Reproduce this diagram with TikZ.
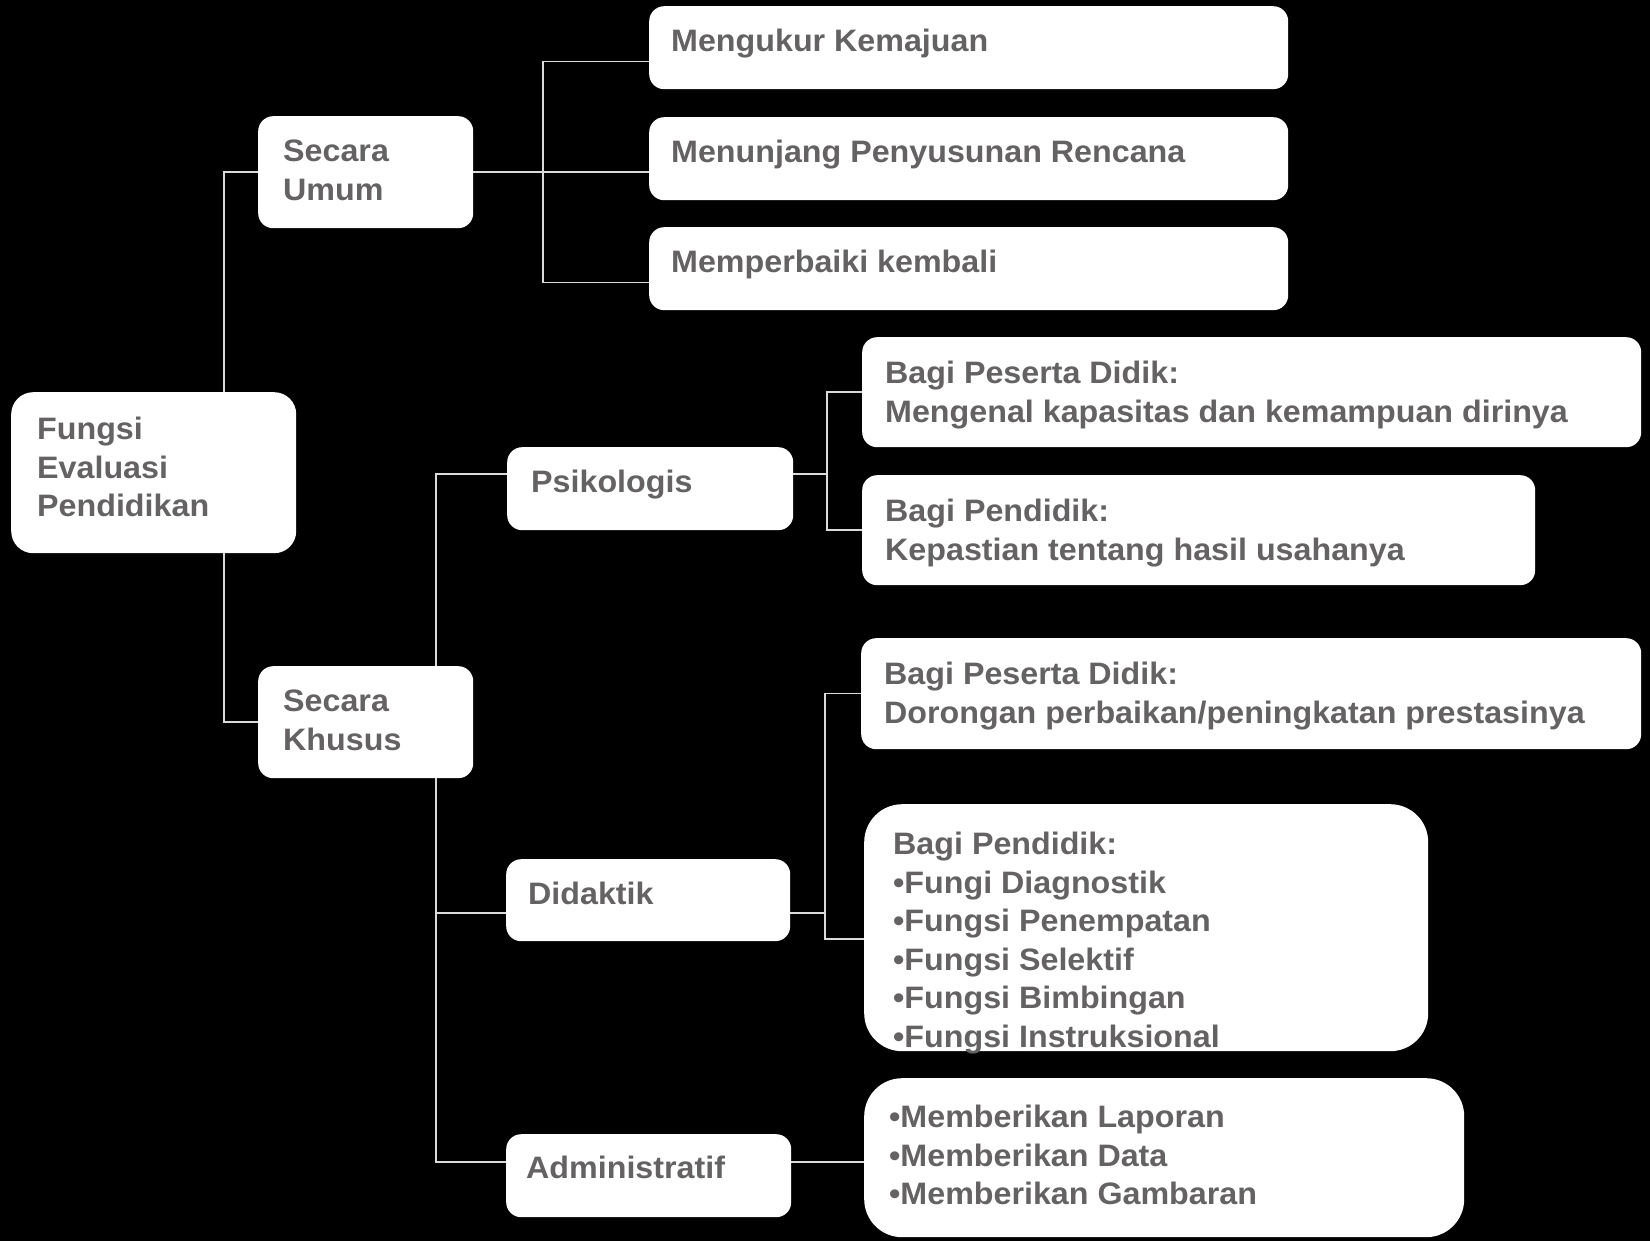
\documentclass[tikz,border=0pt]{standalone}
\usepackage{fontspec}
\setmainfont[FakeStretch=1.04]{Liberation Sans}
\usepackage{xcolor}
\usetikzlibrary{positioning, calc}
\definecolor{evgray}{HTML}{646263}
\definecolor{evline}{HTML}{DADADA}

\begin{document}
\begin{tikzpicture}[x=1pt, y=-1pt,
  box/.style={rectangle, fill=white, rounded corners=15pt, anchor=north west,
    inner sep=0pt},
  txt/.style={anchor=north west, inner sep=0pt, align=left, text=evgray,
    font=\fontsize{31}{38.5}\selectfont\bfseries, execute at begin node=\strut},
  link/.style={evline, line width=1.5pt},
]
  \fill[black] (0,0) rectangle (1650,1241);
  \useasboundingbox (0,0) rectangle (1650,1241);

  % boxes
  \node[box, rounded corners=22pt, minimum width=285pt, minimum height=161pt] (root) at (11,392) {};
  \node[box, minimum width=215pt, minimum height=112pt] (umum) at (258,116) {};
  \node[box, minimum width=215pt, minimum height=112pt] (khusus) at (258,666) {};
  \node[box, minimum width=639pt, minimum height=83pt] (m1) at (649,6) {};
  \node[box, minimum width=639pt, minimum height=83pt] (m2) at (649,117) {};
  \node[box, minimum width=639pt, minimum height=83pt] (m3) at (649,227) {};
  \node[box, minimum width=286pt, minimum height=83pt] (psik) at (507,447) {};
  \node[box, minimum width=779pt, minimum height=110pt] (p1) at (862,337) {};
  \node[box, minimum width=673pt, minimum height=110pt] (p2) at (862,475) {};
  \node[box, minimum width=284pt, minimum height=82pt] (didak) at (506,859) {};
  \node[box, minimum width=780pt, minimum height=111pt] (d1) at (861,638) {};
  \node[box, rounded corners=38pt, minimum width=564pt, minimum height=247pt] (d2) at (864,804) {};
  \node[box, minimum width=285pt, minimum height=83pt] (admin) at (506,1134) {};
  \node[box, rounded corners=38pt, minimum width=600pt, minimum height=159pt] (a1) at (864,1078) {};

  % texts
  \node[txt] (root-t) at ([shift={(26,25)}]root.north west) {Fungsi\\Evaluasi\\Pendidikan};
  \node[txt] (umum-t) at ([shift={(25,24)}]umum.north west) {Secara\\Umum};
  \node[txt] (khusus-t) at ([shift={(25,24)}]khusus.north west) {Secara\\Khusus};
  \node[txt] (m1-t) at ([shift={(22,18)}]m1.north west) {Mengukur Kemajuan};
  \node[txt] (m2-t) at ([shift={(22,18)}]m2.north west) {Menunjang Penyusunan Rencana};
  \node[txt] (m3-t) at ([shift={(22,18)}]m3.north west) {Memperbaiki kembali};
  \node[txt] (psik-t) at ([shift={(24,18)}]psik.north west) {Psikologis};
  \node[txt] (p1-t) at ([shift={(23,24)}]p1.north west) {Bagi Peserta Didik:\\Mengenal kapasitas dan kemampuan dirinya};
  \node[txt] (p2-t) at ([shift={(23,24)}]p2.north west) {Bagi Pendidik:\\Kepastian tentang hasil usahanya};
  \node[txt] (d1-t) at ([shift={(23,24)}]d1.north west) {Bagi Peserta Didik:\\Dorongan perbaikan/peningkatan prestasinya};
  \node[txt] (didak-t) at ([shift={(22,18)}]didak.north west) {Didaktik};
  \node[txt] (d2-t) at ([shift={(29,28)}]d2.north west) {Bagi Pendidik:\\•Fungi Diagnostik\\•Fungsi Penempatan\\•Fungsi Selektif\\•Fungsi Bimbingan\\•Fungsi Instruksional};
  \node[txt] (admin-t) at ([shift={(20,17)}]admin.north west) {Administratif};
  \node[txt] (a1-t) at ([shift={(25,27)}]a1.north west) {•Memberikan Laporan\\•Memberikan Data\\•Memberikan Gambaran};

  % trunks
  \coordinate (trunkA) at (224,0);
  \coordinate (trunkB) at (543,0);
  \coordinate (trunkC) at (436,0);
  \coordinate (trunkD) at (827,0);
  \coordinate (trunkE) at (825,0);

  % entry points
  \coordinate (m1in) at ([yshift=-14pt]m1.west);
  \coordinate (m3in) at ([yshift=-14pt]m3.west);
  \coordinate (psin) at ([yshift=14.5pt]psik.west);
  \coordinate (diin) at ([yshift=-13pt]didak.west);
  \coordinate (adin) at ([yshift=13.5pt]admin.west);
  \coordinate (d2in) at ([yshift=-11.5pt]d2.west);

  \draw[link] (root.north -| trunkA) |- (umum.west);
  \draw[link] (root.south -| trunkA) |- (khusus.west);
  \draw[link] (umum.east) -- (umum.east -| m2.west);
  \draw[link] (m1in) -| (trunkB |- m3in) -- (m3in);
  \draw[link] (psin) -| (trunkC |- khusus.north);
  \draw[link] (adin) -| (trunkC |- khusus.south);
  \draw[link] (diin) -- (diin -| trunkC);
  \draw[link] (psin -| psik.east) -- (psin -| trunkD);
  \draw[link] (p1.west) -| (trunkD |- p2.west) -- (p2.west);
  \draw[link] (diin -| didak.east) -- (diin -| trunkE);
  \draw[link] (d1.west) -| (trunkE |- d2in) -- (d2in);
  \draw[link] (adin -| admin.east) -- (adin -| a1.west);
\end{tikzpicture}
\end{document}
